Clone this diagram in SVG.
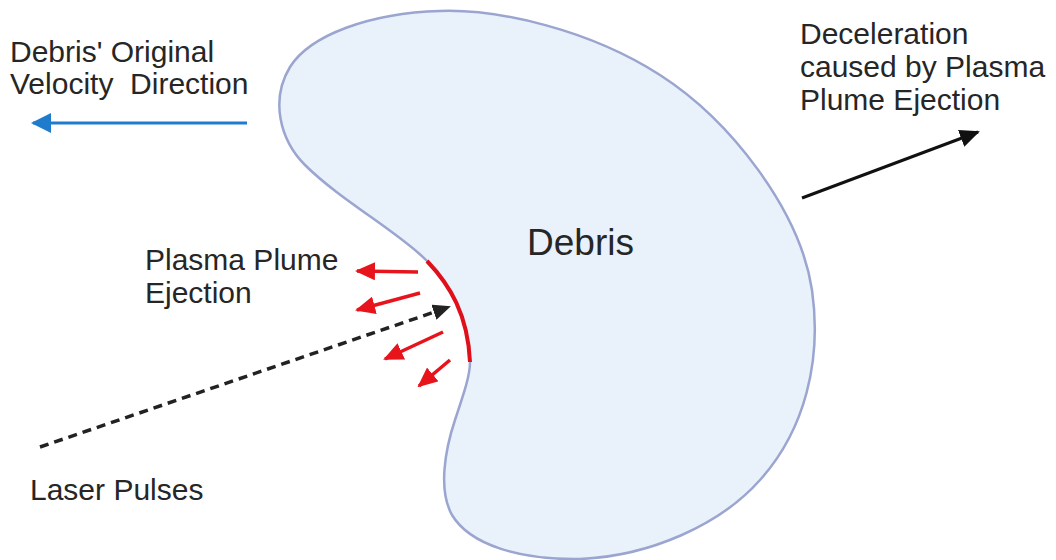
<svg xmlns="http://www.w3.org/2000/svg" width="1056" height="560" viewBox="0 0 1056 560">
<defs>
<style>
text{font-family:"Liberation Sans",Arial,sans-serif;fill:#262626;font-size:30px}
.red{stroke:#e8141c;stroke-width:3.5;fill:none}
</style>
<marker id="hr" viewBox="0 0 20 18" refX="18" refY="9" markerWidth="20" markerHeight="18" markerUnits="userSpaceOnUse" orient="auto"><path d="M0,0 L20,9 L0,18 Z" fill="#e8141c"/></marker>
<marker id="hb" viewBox="0 0 20 20" refX="18" refY="10" markerWidth="20" markerHeight="20" markerUnits="userSpaceOnUse" orient="auto"><path d="M0,0 L20,10 L0,20 Z" fill="#1f7ccc"/></marker>
<marker id="hk" viewBox="0 0 20 18" refX="18" refY="9" markerWidth="20" markerHeight="18" markerUnits="userSpaceOnUse" orient="auto"><path d="M0,0 L20,9 L0,18 Z" fill="#111"/></marker>
<marker id="hd" viewBox="0 0 18 16" refX="16" refY="8" markerWidth="18" markerHeight="16" markerUnits="userSpaceOnUse" orient="auto"><path d="M0,0 L18,8 L0,16 Z" fill="#222"/></marker>
</defs>
<rect width="1056" height="560" fill="#fff"/>
<g id="debris">
<path d="M440,11 C500,9 590,30 660,75 C730,120 800,210 812,290 C822,360 805,430 760,480 C720,525 650,556 580,559 C520,560 470,545 452,515 C438,490 445,450 455,420 C465,390 470,375 470,362 C468,315 450,285 427,261 C400,233 340,200 305,165 C280,140 270,100 290,67 C310,35 370,13 440,11 Z" fill="#e9f1fb" stroke="#9aa5d0" stroke-width="2.5"/>
<path d="M427,261 C450,285 468,315 470,362" fill="none" stroke="#e0101a" stroke-width="4"/>
<text x="527" y="255" style="font-size:37px">Debris</text>
</g>
<g id="labels">
<text x="10" y="62">Debris' Original</text>
<text x="10" y="94" xml:space="preserve">Velocity  Direction</text>
<text x="800" y="44">Deceleration</text>
<text x="800" y="77">caused by Plasma</text>
<text x="800" y="110">Plume Ejection</text>
<text x="145" y="270">Plasma Plume</text>
<text x="145" y="303">Ejection</text>
<text x="30" y="500">Laser Pulses</text>
</g>
<g id="connectors">
<line x1="247" y1="123" x2="33" y2="123" stroke="#1f7ccc" stroke-width="3" marker-end="url(#hb)"/>
<line x1="802" y1="198" x2="978" y2="132" stroke="#111" stroke-width="3" marker-end="url(#hk)"/>
<line x1="40" y1="447" x2="449" y2="307" stroke="#222" stroke-width="3.5" stroke-dasharray="9 6" marker-end="url(#hd)"/>
<line class="red" x1="418" y1="272" x2="357" y2="271" marker-end="url(#hr)"/>
<line class="red" x1="420" y1="293" x2="357" y2="310" marker-end="url(#hr)"/>
<line class="red" x1="443" y1="332" x2="385" y2="359" marker-end="url(#hr)"/>
<line class="red" x1="450" y1="360" x2="419" y2="386" marker-end="url(#hr)"/>
</g>
</svg>
